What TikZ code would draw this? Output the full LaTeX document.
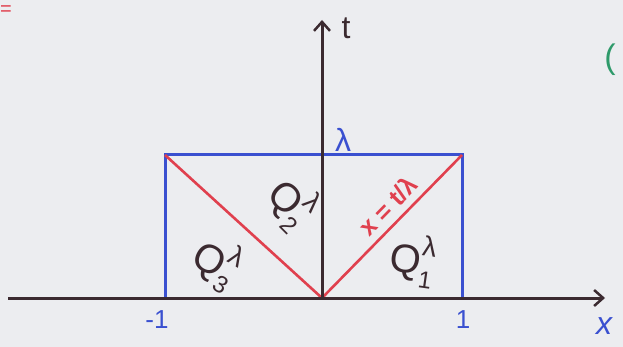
\documentclass[tikz,border=0pt]{standalone}
\usepackage{fontspec}
\setmainfont{Liberation Sans}
\usetikzlibrary{arrows.meta}
\definecolor{axiscol}{HTML}{3B2A30}
\definecolor{bluecol}{HTML}{3A50D0}
\definecolor{redcol}{HTML}{E0404E}
\definecolor{greencol}{HTML}{2E9A6A}
\definecolor{papercol}{HTML}{ECEDF0}
\newcommand{\qsym}[1]{Q\rlap{\raisebox{0.5em}{\fontsize{28}{28}\selectfont λ}}\raisebox{-0.3em}{\fontsize{24}{24}\selectfont #1}}
\tikzset{
  axisline/.style={draw=axiscol,line width=3pt,-{Straight Barb[length=9pt,width=16pt,line width=2.5pt]}},
  boxline/.style={draw=bluecol,line width=3pt},
  diagline/.style={draw=redcol,line width=2.6pt},
  lbl/.style={inner sep=0pt,font=\fontsize{32}{32}\selectfont},
  qlbl/.style={inner sep=0pt,font=\fontsize{40}{40}\selectfont,text=axiscol},
}
\begin{document}
\begin{tikzpicture}[x=1pt,y=-1pt]
\fill[papercol] (0,0) rectangle (623,347);
\useasboundingbox (0,0) rectangle (623,347);
% corners
\coordinate (O) at (322,298);
\coordinate (BL) at (165,298);
\coordinate (TL) at (165,155);
\coordinate (TR) at (462,155);
\coordinate (BR) at (462,298);
\coordinate (xs) at (8,298);
\coordinate (xe) at (605,298);
\coordinate (ts) at (322,298);
\coordinate (te) at (322,20);
% box
\draw[boxline] (BL) -- (TL) -- (TR) -- (BR) -- cycle;
% diagonals
\draw[diagline] (O) -- (TL);
\draw[diagline] (O) -- (TR);
% axes
\draw[axisline] (xs) -- (xe);
\draw[axisline] (ts) -- (te);
% labels
\node[lbl,text=axiscol] (tlab) at (346,28) {t};
\node[lbl,text=bluecol] (xlab) at (604,326) {\itshape x};
\node[lbl,text=bluecol,font=\fontsize{26}{26}\selectfont] (m1) at (157,320) {-1};
\node[lbl,text=bluecol,font=\fontsize{26}{26}\selectfont] (p1) at (463,320) {1};
\node[lbl,text=bluecol] (lam) at (343,140) {λ};
\node[qlbl,rotate=-45] (q2) at (291,202) {\qsym{2}};
\node[qlbl,rotate=-30] (q3) at (216,262) {\qsym{3}};
\node[qlbl,rotate=-8] (q1) at (412,260) {\qsym{1}};
\node[inner sep=0pt,font=\fontsize{25}{25}\bfseries,text=redcol,rotate=45.6] (eq) at (388,206) {x = t/λ};
% cut-off fragments at the edges
\node[inner sep=0pt,font=\fontsize{20}{20}\selectfont,text=redcol,anchor=west] (frag1) at (0,11) {=};
\node[inner sep=0pt,font=\fontsize{34}{34}\selectfont,text=greencol] (frag2) at (610,60) {(};
\end{tikzpicture}
\end{document}
